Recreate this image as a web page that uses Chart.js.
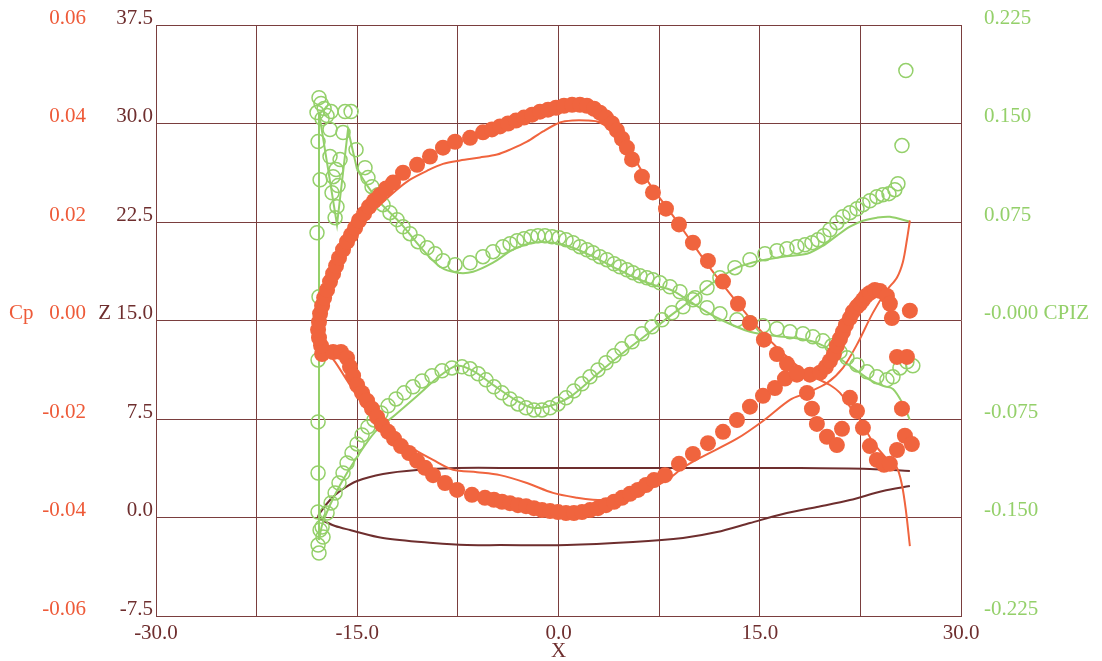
<!DOCTYPE html>
<html>
<head>
<meta charset="utf-8">
<script src="https://cdn.jsdelivr.net/npm/chart.js@4.4.1/dist/chart.umd.min.js"></script>
<style>
html,body{margin:0;padding:0;background:#fff;}
#wrap{width:1102px;height:661px;}
</style>
</head>
<body>
<div id="wrap"><canvas id="c" width="1102" height="661"></canvas></div>
<script>
// ── Data (X in chord units, Cp / CPIZ / Z values) ──
const cpUpperX=[-17.70,-17.85,-17.92,-17.85,-17.77,-17.62,-17.47,-17.25,-17.03,-16.80,-16.58,-16.36,-16.06,-15.76,-15.46,-15.16,-14.87,-14.49,-14.12,-13.75,-13.30,-12.85,-12.33,-11.59,-10.54,-9.58,-8.61,-7.71,-6.59,-5.63,-4.96,-4.36,-3.76,-3.17,-2.57,-1.97,-1.38,-0.78,-0.19,0.41,1.01,1.60,2.12,2.65,3.09,3.54,3.99,4.36,4.73,5.10,5.48,6.22,7.04,8.01,8.98,10.02,11.14,12.26,13.38,14.27,15.31,16.28,17.03,17.77,18.52,18.89,19.26,20.01,20.75,21.13];
const cpUpperY=[-0.0051,-0.0035,-0.0019,-0.0003,0.0014,0.0030,0.0046,0.0062,0.0079,0.0095,0.0111,0.0127,0.0144,0.0160,0.0174,0.0188,0.0203,0.0217,0.0231,0.0243,0.0255,0.0268,0.0280,0.0300,0.0316,0.0333,0.0351,0.0363,0.0371,0.0382,0.0388,0.0394,0.0400,0.0406,0.0412,0.0418,0.0424,0.0428,0.0432,0.0436,0.0438,0.0438,0.0436,0.0430,0.0422,0.0412,0.0400,0.0386,0.0369,0.0351,0.0327,0.0292,0.0260,0.0227,0.0195,0.0158,0.0121,0.0079,0.0034,-0.0005,-0.0039,-0.0068,-0.0088,-0.0106,-0.0147,-0.0179,-0.0210,-0.0236,-0.0253,-0.0220];
const cpLowerX=[-17.62,-16.80,-16.21,-15.76,-15.54,-15.31,-15.01,-14.64,-14.27,-13.90,-13.52,-13.15,-12.70,-12.26,-11.74,-11.14,-10.54,-9.95,-9.35,-8.46,-7.56,-6.45,-5.48,-4.81,-4.21,-3.62,-3.02,-2.42,-1.83,-1.23,-0.63,-0.04,0.56,1.15,1.75,2.35,2.94,3.54,4.14,4.73,5.33,5.92,6.52,7.12,7.94,8.98,10.02,11.14,12.26,13.30,14.27,15.24,16.13,16.88,17.77,18.74,19.49,19.93,20.23,20.53,20.75,20.98,21.20,21.42,21.72,21.95,22.25,22.47,22.69,22.92,23.21,23.58,23.96,24.48,24.70];
const cpLowerY=[-0.0068,-0.0064,-0.0064,-0.0076,-0.0094,-0.0112,-0.0131,-0.0147,-0.0163,-0.0179,-0.0196,-0.0212,-0.0226,-0.0240,-0.0255,-0.0269,-0.0285,-0.0299,-0.0314,-0.0330,-0.0344,-0.0354,-0.0360,-0.0364,-0.0368,-0.0371,-0.0375,-0.0377,-0.0381,-0.0385,-0.0387,-0.0389,-0.0391,-0.0391,-0.0389,-0.0385,-0.0381,-0.0375,-0.0368,-0.0360,-0.0352,-0.0344,-0.0334,-0.0324,-0.0314,-0.0291,-0.0271,-0.0249,-0.0226,-0.0202,-0.0175,-0.0153,-0.0137,-0.0118,-0.0110,-0.0110,-0.0106,-0.0094,-0.0082,-0.0068,-0.0051,-0.0037,-0.0023,-0.0009,0.0005,0.0018,0.0028,0.0034,0.0042,0.0050,0.0056,0.0062,0.0060,0.0050,0.0034];
const cpTailX=[21.72,22.25,22.69,23.21,23.73,24.26,24.70,25.23,25.82,26.34,25.60,26.19,24.85,25.23,25.97];
const cpTailY=[-0.0157,-0.0184,-0.0218,-0.0255,-0.0283,-0.0293,-0.0291,-0.0263,-0.0234,-0.0251,-0.0179,0.0020,0.0005,-0.0074,-0.0074];

const cpCalcUpperX=[26.19,25.89,25.60,25.22,24.48,23.44,22.47,21.72,20.98,20.23,19.49,18.37,16.88,15.01,13.15,11.29,9.80,8.31,6.82,5.70,4.96,4.36,3.61,2.87,2.12,1.08,0.11,-1.15,-2.35,-3.61,-4.58,-5.85,-7.34,-8.61,-9.80,-11.07,-12.03,-13.30,-14.79,-15.91,-17.03,-17.62,-17.92];
const cpCalcUpperY=[-0.0458,-0.0385,-0.0334,-0.0299,-0.0281,-0.0247,-0.0202,-0.0175,-0.0147,-0.0131,-0.0121,-0.0104,-0.0070,-0.0019,0.0042,0.0107,0.0164,0.0221,0.0276,0.0327,0.0357,0.0382,0.0394,0.0404,0.0406,0.0406,0.0402,0.0384,0.0363,0.0347,0.0337,0.0331,0.0325,0.0318,0.0304,0.0286,0.0266,0.0235,0.0195,0.0144,0.0083,0.0042,-0.0003];
const cpCalcLowerX=[-17.92,-17.62,-16.65,-15.54,-14.05,-12.56,-11.07,-9.35,-7.86,-6.07,-4.36,-2.35,-0.41,1.38,2.57,3.84,5.10,6.59,8.08,9.28,10.54,13.30,15.24,17.25,18.52,20.01,21.20,22.24,23.44,24.48,25.22,25.67,25.97,26.19];
const cpCalcLowerY=[-0.0003,-0.0049,-0.0084,-0.0131,-0.0192,-0.0232,-0.0257,-0.0283,-0.0303,-0.0308,-0.0314,-0.0330,-0.0350,-0.0360,-0.0364,-0.0364,-0.0358,-0.0344,-0.0324,-0.0299,-0.0279,-0.0240,-0.0204,-0.0161,-0.0147,-0.0127,-0.0096,-0.0049,0.0016,0.0062,0.0087,0.0119,0.0164,0.0203];

const cpizLeX=[-17.85,-17.70,-17.47,-18.00,-17.25,-16.95,-17.62,-15.91,-15.46,-16.06,-17.03,-17.92,-17.03,-16.28,-16.58,-16.80,-16.43,-16.88,-16.51,-16.65,-17.77,-18.00,-15.09,-14.42,-14.20,-13.90,-17.85,-17.92,-17.92,-17.92,-17.92,-17.77,-17.55,-17.92,-17.85,-17.62];
const cpizLeY=[0.1697,0.1652,0.1614,0.1583,0.1560,0.1591,0.1537,0.1591,0.1591,0.1431,0.1454,0.1362,0.1248,0.1225,0.1149,0.1095,0.1027,0.0973,0.0867,0.0783,0.1072,0.0668,0.1301,0.1164,0.1088,0.1019,0.0181,-0.0300,-0.0772,-0.1161,-0.1458,-0.1595,-0.1649,-0.1710,-0.1771,-0.1572];
const cpizUpperX=[-13.45,-13.08,-12.56,-12.03,-11.59,-11.07,-10.47,-9.80,-9.20,-8.61,-7.71,-6.59,-5.63,-4.88,-4.14,-3.61,-3.09,-2.57,-2.05,-1.53,-1.01,-0.48,0.04,0.56,1.08,1.60,2.12,2.57,3.09,3.61,4.14,4.58,5.10,5.55,6.07,6.59,7.04,7.56,8.31,9.05,10.02,11.07,12.03,13.30,14.27,15.24,16.28,17.25,18.22,18.96,19.71,20.38,20.98,21.50,22.25,22.99,23.73,24.48,24.93,25.45,25.97,26.41];
const cpizUpperY=[0.0958,0.0882,0.0821,0.0768,0.0714,0.0661,0.0600,0.0554,0.0508,0.0455,0.0425,0.0440,0.0486,0.0524,0.0562,0.0585,0.0607,0.0623,0.0638,0.0646,0.0646,0.0638,0.0630,0.0615,0.0592,0.0562,0.0539,0.0516,0.0486,0.0463,0.0432,0.0409,0.0386,0.0364,0.0341,0.0325,0.0310,0.0287,0.0257,0.0219,0.0158,0.0097,0.0051,0.0005,-0.0018,-0.0040,-0.0063,-0.0086,-0.0101,-0.0124,-0.0155,-0.0193,-0.0239,-0.0284,-0.0338,-0.0391,-0.0429,-0.0452,-0.0429,-0.0361,-0.0315,-0.0345];
const cpizLowerX=[-17.25,-16.95,-16.65,-16.36,-16.06,-15.76,-15.39,-15.01,-14.64,-14.20,-13.75,-13.23,-12.70,-12.11,-11.51,-10.84,-10.17,-9.43,-8.68,-7.94,-7.19,-6.59,-5.99,-5.40,-4.81,-4.21,-3.61,-3.02,-2.42,-1.83,-1.23,-0.63,-0.04,0.56,1.15,1.75,2.35,2.94,3.54,4.14,4.73,5.48,6.22,6.97,7.71,8.46,9.28,10.17,11.07,12.03,13.15,14.27,15.39,16.28,17.03,17.77,18.37,18.89,19.34,19.78,20.23,20.75,21.20,21.72,22.25,22.69,23.21,23.73,24.18,24.63,25.07,25.30,25.60,25.89];
const cpizLowerY=[-0.1466,-0.1389,-0.1313,-0.1237,-0.1161,-0.1085,-0.1008,-0.0940,-0.0871,-0.0810,-0.0757,-0.0704,-0.0650,-0.0597,-0.0551,-0.0505,-0.0460,-0.0421,-0.0383,-0.0361,-0.0353,-0.0368,-0.0406,-0.0452,-0.0505,-0.0551,-0.0597,-0.0635,-0.0665,-0.0681,-0.0681,-0.0665,-0.0635,-0.0589,-0.0536,-0.0482,-0.0429,-0.0376,-0.0322,-0.0269,-0.0216,-0.0162,-0.0101,-0.0048,0.0005,0.0059,0.0104,0.0173,0.0249,0.0325,0.0402,0.0463,0.0508,0.0531,0.0546,0.0562,0.0577,0.0592,0.0615,0.0646,0.0691,0.0745,0.0790,0.0821,0.0851,0.0882,0.0912,0.0943,0.0958,0.0966,0.0996,0.1042,0.1332,0.1903];

const cpizCalcLowerX=[26.19,24.70,23.73,22.69,21.72,20.75,19.71,18.52,16.73,15.01,13.30,11.81,10.54,9.43,7.94,7.04,5.10,3.09,1.08,-0.41,-1.90,-3.09,-4.88,-6.37,-7.56,-8.83,-10.54,-12.18,-13.67,-15.16,-16.28,-17.03,-17.62,-17.85];
const cpizCalcLowerY=[0.0752,0.0790,0.0783,0.0760,0.0714,0.0646,0.0569,0.0508,0.0486,0.0455,0.0402,0.0310,0.0211,0.0120,0.0005,-0.0071,-0.0223,-0.0391,-0.0566,-0.0643,-0.0665,-0.0612,-0.0490,-0.0383,-0.0345,-0.0421,-0.0574,-0.0719,-0.0848,-0.1062,-0.1252,-0.1405,-0.1557,-0.1672];
const cpizCalcLeX=[-17.85,-17.85,-16.51,-15.69,-15.01];
const cpizCalcLeY=[-0.1672,0.1583,0.0729,0.1454,0.1149];
const cpizCalcUpperX=[-15.01,-14.20,-13.30,-11.81,-10.32,-8.83,-7.56,-6.37,-4.88,-3.39,-1.90,-0.41,1.08,2.57,4.06,5.55,7.04,8.53,10.17,11.81,14.27,16.73,18.00,19.26,20.23,21.20,22.24,23.21,24.18,24.93,25.67,26.19];
const cpizCalcUpperY=[0.1149,0.1019,0.0897,0.0745,0.0562,0.0409,0.0364,0.0371,0.0440,0.0539,0.0592,0.0592,0.0554,0.0486,0.0409,0.0333,0.0272,0.0226,0.0120,0.0021,-0.0086,-0.0124,-0.0139,-0.0170,-0.0223,-0.0307,-0.0383,-0.0452,-0.0498,-0.0521,-0.0635,-0.0757];

const geomX=[26.19,23.21,18.00,10.54,3.09,-2.87,-7.56,-10.54,-13.08,-15.01,-16.28,-17.03,-17.62,-17.92,-17.62,-16.65,-15.54,-13.08,-9.35,-6.82,-4.36,0.63,5.55,9.28,11.81,14.27,16.73,19.26,21.72,24.18,26.19];
const geomZ=[3.54,3.70,3.77,3.77,3.77,3.77,3.77,3.62,3.32,2.78,2.02,1.33,0.57,0.04,-0.19,-0.65,-0.95,-1.56,-1.94,-2.10,-2.10,-2.10,-1.87,-1.56,-1.11,-0.42,0.27,0.80,1.33,2.02,2.40];

// ── Style ──
const ORANGE='#f0643e', ORANGE_TXT='#ee5a38', GREEN='#94d06a', MAROON='#6e2e2e', GRID='#7a3e3e';
Chart.defaults.font.family='"Liberation Serif", "Times New Roman", serif';
Chart.defaults.font.size=21;

const pts=(xs,ys)=>xs.map((x,i)=>({x:x,y:ys[i]}));
const dots=(xs,ys)=>({data:pts(xs,ys),yAxisID:'cp',pointRadius:8,pointBackgroundColor:ORANGE,pointBorderWidth:0,showLine:false});
const rings=(xs,ys)=>({data:pts(xs,ys),yAxisID:'cpiz',pointRadius:7,pointBackgroundColor:'rgba(0,0,0,0)',pointBorderColor:GREEN,pointBorderWidth:1.5,showLine:false});
const curve=(xs,ys,axis,color,t)=>({data:pts(xs,ys),yAxisID:axis,showLine:true,pointRadius:0,borderColor:color,borderWidth:2,tension:t});
// fixed axis sizes, and no label-overflow padding pushed into the layout
const fixW=w=>s=>{s.width=w;s.paddingTop=0;s.paddingBottom=0;};

new Chart(document.getElementById('c'),{
  type:'scatter',
  data:{datasets:[
    dots(cpUpperX,cpUpperY),
    dots(cpLowerX,cpLowerY),
    dots(cpTailX,cpTailY),
    rings(cpizLeX,cpizLeY),
    rings(cpizUpperX,cpizUpperY),
    rings(cpizLowerX,cpizLowerY),
    curve(cpCalcUpperX,cpCalcUpperY,'cp',ORANGE,0.3),
    curve(cpCalcLowerX,cpCalcLowerY,'cp',ORANGE,0.3),
    curve(cpizCalcLowerX,cpizCalcLowerY,'cpiz',GREEN,0.3),
    curve(cpizCalcLeX,cpizCalcLeY,'cpiz',GREEN,0),
    curve(cpizCalcUpperX,cpizCalcUpperY,'cpiz',GREEN,0.3),
    curve(geomX,geomZ,'z',MAROON,0.3)
  ]},
  options:{
    responsive:false,animation:false,events:[],
    layout:{padding:{top:25,left:0,right:0,bottom:0}},
    plugins:{legend:{display:false},tooltip:{enabled:false}},
    scales:{
      x:{type:'linear',axis:'x',position:'bottom',min:-30,max:30,
        ticks:{stepSize:7.5,autoSkip:false,maxRotation:0,color:MAROON,padding:5,
          callback:v=>Math.abs(v%15)<1e-6?v.toFixed(1):''},
        grid:{color:GRID,drawTicks:false},border:{color:GRID},
        title:{display:true,text:'X',color:MAROON,padding:{top:0,bottom:-3}},
        afterFit:s=>{s.height=45;s.paddingLeft=0;s.paddingRight=0;}},
      z:{type:'linear',axis:'y',position:'left',weight:0,min:-7.5,max:37.5,
        ticks:{stepSize:7.5,color:MAROON,padding:3,labelOffset:-7,
          callback:v=>Math.abs(v-15)<1e-6?'Z 15.0':v.toFixed(1)},
        grid:{color:GRID,drawTicks:false},border:{color:GRID},
        afterFit:fixW(67)},
      cp:{type:'linear',axis:'y',position:'left',weight:1,min:-0.06,max:0.06,
        ticks:{stepSize:0.02,color:ORANGE_TXT,padding:3,labelOffset:-7,
          callback:v=>Math.abs(v)<1e-9?'Cp   0.00':v.toFixed(2)},
        grid:{display:false,drawTicks:false},border:{display:false},
        afterFit:fixW(89)},
      cpiz:{type:'linear',axis:'y',position:'right',min:-0.225,max:0.225,
        ticks:{stepSize:0.075,color:GREEN,padding:23,labelOffset:-7,
          callback:v=>Math.abs(v)<1e-9?'-0.000 CPIZ':v.toFixed(3)},
        grid:{display:false,drawTicks:false},border:{display:false},
        afterFit:fixW(141)}
    }
  }
});
</script>
</body>
</html>
